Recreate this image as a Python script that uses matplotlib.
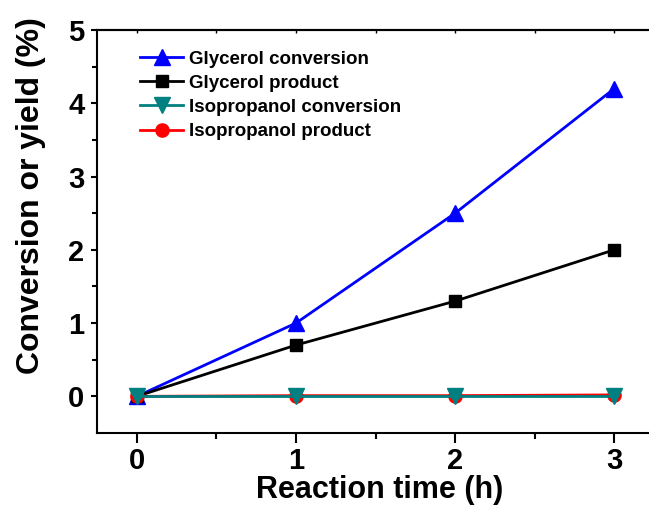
import numpy as np
import matplotlib
matplotlib.use('Agg')
from matplotlib import pyplot as plt

plt.rcParams['font.family'] = ['Liberation Sans', 'DejaVu Sans']

# data
time_h = [0, 1, 2, 3]
glycerol_conv = [0, 1.0, 2.5, 4.2]
glycerol_prod = [0, 0.7, 1.3, 2.0]
iso_conv = [0, 0, 0, 0]
iso_prod = [0, 0.01, 0.01, 0.02]

fig = plt.figure(figsize=(6.49, 5.09), dpi=100)
ax = fig.add_axes([0.1495, 0.1493, 0.8706, 0.7918])

l1, = ax.plot(time_h, glycerol_conv, '-^', color='#0000ff', lw=2, ms=11, label='Glycerol conversion')
l2, = ax.plot(time_h, glycerol_prod, '-s', color='black', lw=2, ms=8.5, label='Glycerol product')
l4, = ax.plot(time_h, iso_prod, '-o', color='#ff0000', lw=2, ms=9.5, label='Isopropanol product')
l3, = ax.plot(time_h, iso_conv, '-v', color='#008080', lw=2, ms=11, label='Isopropanol conversion')

ax.set_xlim(-0.25, 3.3)
ax.set_ylim(-0.5, 5)
ax.set_xticks([0, 1, 2, 3])
ax.set_xticks([0.5, 1.5, 2.5], minor=True)
ax.set_yticks([0, 1, 2, 3, 4, 5])
ax.set_yticks([0.5, 1.5, 2.5, 3.5, 4.5], minor=True)

for s in ax.spines.values():
    s.set_linewidth(1.5)
ax.spines['right'].set_visible(False)

ax.tick_params(axis='x', which='major', length=7, width=1.5, labelsize=21, pad=3)
ax.tick_params(axis='x', which='minor', length=4, width=1.5)
ax.tick_params(axis='y', which='major', length=4, width=1.5, labelsize=21, pad=5)
ax.tick_params(axis='y', which='minor', length=3.5, width=1.5)
for lab in ax.get_xticklabels() + ax.get_yticklabels():
    lab.set_fontweight('bold')

top = ax.secondary_xaxis('top')
top.set_xticks([0, 0.5, 1, 1.5, 2, 2.5, 3])
top.tick_params(direction='in', length=2, width=1, labeltop=False)
top.spines['top'].set_linewidth(1.5)

ax.set_xlabel('Reaction time (h)', fontsize=22, fontweight='bold', labelpad=0)
ax.set_ylabel('Conversion or yield (%)', fontsize=23, fontweight='bold')
ax.yaxis.set_label_coords(-0.09, 0.588)

leg = ax.legend([l1, l2, l3, l4], [l1.get_label(), l2.get_label(), l3.get_label(), l4.get_label()],
                loc='upper left', bbox_to_anchor=(0.063, 0.968), frameon=False,
                prop={'size': 13.5, 'weight': 'bold'},
                handlelength=2.3, handletextpad=0.3, labelspacing=0.38, borderaxespad=0)

fig.savefig('out.png', dpi=100)
